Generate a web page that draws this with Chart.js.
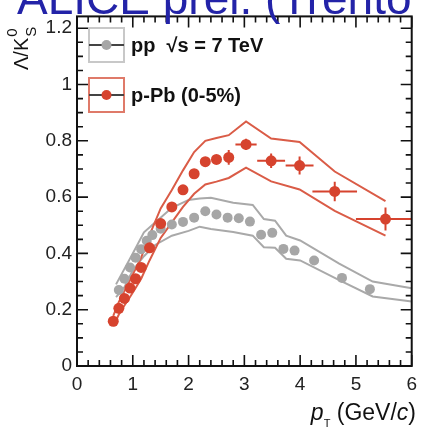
<!DOCTYPE html>
<html>
<head>
<meta charset="utf-8">
<script src="https://cdn.jsdelivr.net/npm/chart.js@4.4.0/dist/chart.umd.min.js"></script>
<style>
    html, body { margin: 0; padding: 0; background: #fff; }
    #ratioChart { display: block; }
</style>
</head>
<body>
<canvas id="ratioChart" width="424" height="437"></canvas>
<script>
// p-Pb 0-5%: Lambda/K0s vs pT
var pPbPt      = [0.65, 0.75, 0.85, 0.95, 1.05, 1.15, 1.3, 1.5, 1.7, 1.9, 2.1, 2.3, 2.5, 2.72, 3.03, 3.48, 3.99, 4.62, 5.53];
var pPbRatio   = [0.159, 0.205, 0.24, 0.277, 0.31, 0.35, 0.42, 0.506, 0.565, 0.626, 0.683, 0.726, 0.734, 0.741, 0.787, 0.729, 0.712, 0.62, 0.522];
var pPbPtErr   = [0, 0, 0, 0, 0, 0, 0, 0, 0, 0, 0, 0, 0, 0, 0.19, 0.25, 0.25, 0.4, 0.53];
var pPbStatErr = [0, 0, 0, 0, 0, 0, 0, 0, 0, 0, 0, 0, 0, 0.026, 0.02, 0.026, 0.032, 0.035, 0.041];
var pPbSysUp   = [0.178, 0.228, 0.266, 0.305, 0.345, 0.385, 0.465, 0.56, 0.625, 0.695, 0.76, 0.80, 0.81, 0.82, 0.869, 0.808, 0.796, 0.691, 0.586];
var pPbSysLow  = [0.142, 0.183, 0.215, 0.245, 0.277, 0.31, 0.375, 0.455, 0.51, 0.565, 0.612, 0.645, 0.655, 0.668, 0.705, 0.656, 0.627, 0.551, 0.463];

// pp 7 TeV
var ppPt    = [0.75, 0.85, 0.95, 1.05, 1.15, 1.25, 1.35, 1.5, 1.7, 1.9, 2.1, 2.3, 2.5, 2.7, 2.9, 3.1, 3.3, 3.5, 3.7, 3.9, 4.25, 4.75, 5.25];
var ppRatio = [0.27, 0.31, 0.35, 0.385, 0.415, 0.445, 0.465, 0.488, 0.503, 0.512, 0.527, 0.55, 0.538, 0.527, 0.525, 0.513, 0.466, 0.473, 0.416, 0.41, 0.375, 0.313, 0.273];
var ppSysPt  = [0.7, 0.85, 1.0, 1.2, 1.4, 1.7, 2.0, 2.2, 2.4, 2.8, 3.15, 3.35, 3.55, 3.75, 4.0, 4.7, 5.3, 6.0];
var ppSysUp  = [0.29, 0.345, 0.40, 0.475, 0.51, 0.562, 0.59, 0.595, 0.598, 0.58, 0.572, 0.522, 0.516, 0.463, 0.446, 0.364, 0.30, 0.276];
var ppSysLow = [0.245, 0.28, 0.34, 0.39, 0.43, 0.463, 0.48, 0.495, 0.487, 0.476, 0.463, 0.422, 0.42, 0.381, 0.375, 0.305, 0.247, 0.229];

var seriesNames = ['pp  \u221As = 7 TeV', 'p-Pb (0-5%)'];
var headerText = 'ALICE prel. (Trento';

var RED = '#d6432e', RED_BAND = '#da5c47';
var GREY = '#a6a6a6', GREY_BAND = '#a9a9a9';
var FONT = '"Liberation Sans", Arial, Helvetica, sans-serif';

function pts(xs, ys) {
    return xs.map(function (x, i) { return {x: x, y: ys[i]}; });
}

function bandLine(xs, ys, color) {
    return {
        data: pts(xs, ys),
        showLine: true,
        borderColor: color,
        borderWidth: 2,
        pointRadius: 0,
        fill: false,
        tension: 0,
        order: 5
    };
}

// x/y error bars for the p-Pb points
var errorBars = {
    id: 'errorBars',
    afterDatasetsDraw: function (chart) {
        var ctx = chart.ctx, x = chart.scales.x, y = chart.scales.y, a = chart.chartArea;
        ctx.save();
        ctx.beginPath();
        ctx.rect(a.left, a.top, a.right - a.left, a.bottom - a.top);
        ctx.clip();
        ctx.strokeStyle = RED;
        ctx.lineWidth = 2;
        pPbPt.forEach(function (pt, i) {
            var px = x.getPixelForValue(pt), py = y.getPixelForValue(pPbRatio[i]);
            ctx.beginPath();
            if (pPbPtErr[i] > 0) {
                ctx.moveTo(x.getPixelForValue(pt - pPbPtErr[i]), py);
                ctx.lineTo(x.getPixelForValue(pt + pPbPtErr[i]), py);
            }
            if (pPbStatErr[i] > 0) {
                ctx.moveTo(px, y.getPixelForValue(pPbRatio[i] - pPbStatErr[i]));
                ctx.lineTo(px, y.getPixelForValue(pPbRatio[i] + pPbStatErr[i]));
            }
            ctx.stroke();
        });
        ctx.restore();
    }
};

// frame with inward ticks on all four sides, legend and titles
var frameAndText = {
    id: 'frameAndText',
    afterDraw: function (chart) {
        var ctx = chart.ctx, a = chart.chartArea, x = chart.scales.x, y = chart.scales.y;
        var i, v, p, len;
        ctx.save();
        ctx.strokeStyle = '#111';
        ctx.lineWidth = 2;
        ctx.strokeRect(a.left, a.top, a.right - a.left, a.bottom - a.top);

        ctx.lineWidth = 1.6;
        ctx.beginPath();
        for (i = 0; i <= 30; i++) {
            v = i * 0.2;
            p = x.getPixelForValue(v);
            len = (i % 5 === 0) ? 11 : 6;
            ctx.moveTo(p, a.bottom); ctx.lineTo(p, a.bottom - len);
            ctx.moveTo(p, a.top); ctx.lineTo(p, a.top + len);
        }
        for (i = 0; i * 0.05 <= y.max; i++) {
            v = i * 0.05;
            p = y.getPixelForValue(v);
            len = (i % 4 === 0) ? 11 : 6;
            ctx.moveTo(a.left, p); ctx.lineTo(a.left + len, p);
            ctx.moveTo(a.right, p); ctx.lineTo(a.right - len, p);
        }
        ctx.stroke();

        // legend boxes
        var legend = [
            {name: seriesNames[0], top: 28, frame: '#c8c8c8', dot: GREY},
            {name: seriesNames[1], top: 78, frame: '#df7a69', dot: RED}
        ];
        legend.forEach(function (e) {
            var bx = 89, bw = 35, bh = 34, cy = e.top + bh / 2;
            ctx.strokeStyle = e.frame;
            ctx.lineWidth = 2;
            ctx.strokeRect(bx, e.top, bw, bh);
            ctx.strokeStyle = '#444';
            ctx.beginPath();
            ctx.moveTo(bx, cy); ctx.lineTo(bx + bw, cy);
            ctx.stroke();
            ctx.fillStyle = e.dot;
            ctx.beginPath();
            ctx.arc(bx + bw / 2, cy, 5, 0, Math.PI * 2);
            ctx.fill();
            ctx.fillStyle = '#111';
            ctx.font = 'bold 20px ' + FONT;
            ctx.textAlign = 'left';
            ctx.textBaseline = 'middle';
            ctx.fillText(e.name, 131, cy + 1);
        });

        // y title: Lambda/K0s, rotated
        ctx.save();
        ctx.translate(28, 70);
        ctx.rotate(-Math.PI / 2);
        ctx.fillStyle = '#111';
        ctx.textAlign = 'left';
        ctx.textBaseline = 'alphabetic';
        ctx.font = '20px ' + FONT;
        ctx.fillText('\u039B/K', 0, 0);
        var w = ctx.measureText('\u039B/K').width;
        ctx.font = '15px ' + FONT;
        ctx.fillText('0', w + 1, -11);
        ctx.fillText('S', w + 1, 8);
        ctx.restore();

        // x title: pT (GeV/c)
        var parts = [
            {t: 'p', f: 'italic 23px ' + FONT, dy: 0},
            {t: 'T', f: '11px ' + FONT, dy: 7},
            {t: ' (GeV/', f: '23px ' + FONT, dy: 0},
            {t: 'c', f: 'italic 23px ' + FONT, dy: 0},
            {t: ')', f: '23px ' + FONT, dy: 0}
        ];
        var total = 0;
        parts.forEach(function (pp) { ctx.font = pp.f; pp.w = ctx.measureText(pp.t).width; total += pp.w; });
        var cx = 416 - total;
        ctx.fillStyle = '#111';
        ctx.textBaseline = 'alphabetic';
        parts.forEach(function (pp) {
            ctx.font = pp.f;
            ctx.fillText(pp.t, cx, 420 + pp.dy);
            cx += pp.w;
        });

        // header line across the top
        ctx.fillStyle = '#2323a8';
        ctx.font = '46px ' + FONT;
        ctx.textBaseline = 'alphabetic';
        ctx.fillText(headerText, 17, 14);
        ctx.restore();
    }
};

var chart = new Chart(document.getElementById('ratioChart'), {
    type: 'scatter',
    data: {
        datasets: [
            {
                label: seriesNames[1],
                data: pts(pPbPt, pPbRatio),
                backgroundColor: RED,
                borderWidth: 0,
                pointRadius: 5.5,
                order: 0
            },
            {
                label: seriesNames[0],
                data: pts(ppPt, ppRatio),
                backgroundColor: GREY,
                borderWidth: 0,
                pointRadius: 5,
                order: 1
            },
            bandLine(pPbPt, pPbSysUp, RED_BAND),
            bandLine(pPbPt, pPbSysLow, RED_BAND),
            bandLine(ppSysPt, ppSysUp, GREY_BAND),
            bandLine(ppSysPt, ppSysLow, GREY_BAND)
        ]
    },
    options: {
        responsive: false,
        animation: false,
        devicePixelRatio: 1,
        layout: { padding: { top: 13, right: 10, left: 0, bottom: 0 } },
        plugins: {
            legend: { display: false },
            tooltip: { enabled: false }
        },
        scales: {
            x: {
                type: 'linear',
                min: 0,
                max: 6,
                grid: { display: false, drawTicks: false },
                border: { display: false },
                ticks: { stepSize: 1, padding: 7, color: '#222', font: { family: FONT, size: 19 } },
                afterFit: function (s) { s.height = 71; }
            },
            y: {
                min: 0,
                max: 1.242,
                grid: { display: false, drawTicks: false },
                border: { display: false },
                ticks: {
                    stepSize: 0.2,
                    includeBounds: false,
                    padding: 5,
                    color: '#222',
                    font: { family: FONT, size: 19 },
                    callback: function (v) { return String(+v.toFixed(2)); }
                },
                afterFit: function (s) { s.width = 77; }
            }
        }
    },
    plugins: [errorBars, frameAndText]
});
</script>
</body>
</html>
